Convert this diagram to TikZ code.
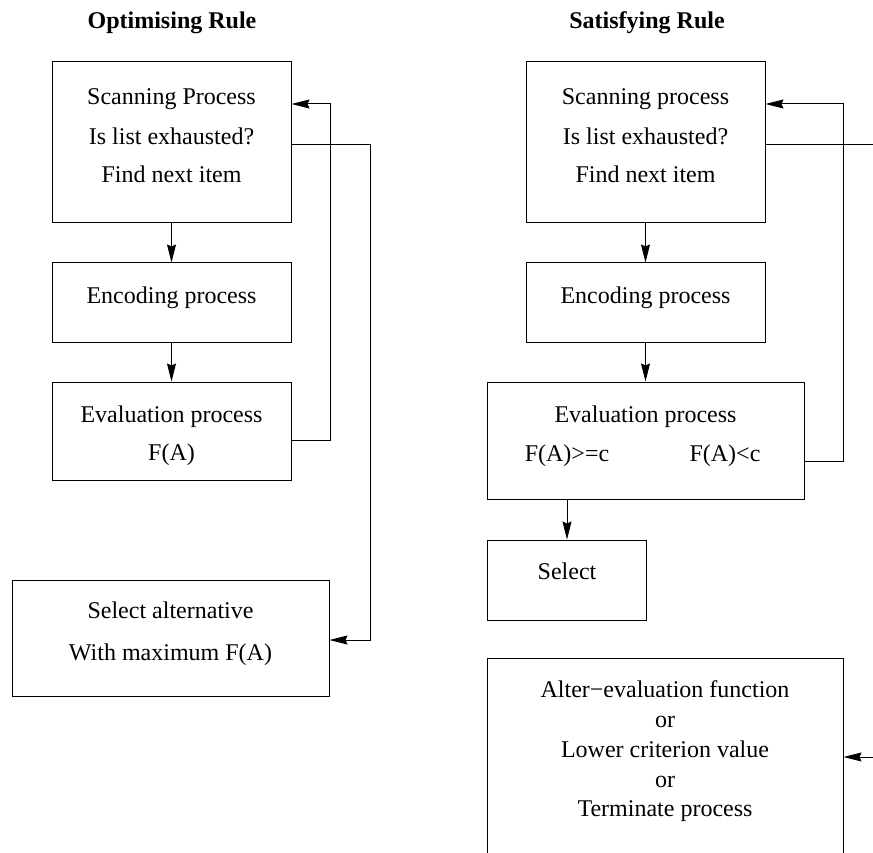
\documentclass[tikz,border=0pt]{standalone}
\usepackage{fontspec}
\setmainfont{Liberation Serif}
\usetikzlibrary{arrows.meta,calc}
\begin{document}
\begin{tikzpicture}[x=1pt,y=-1pt,
  box/.style={draw, line width=1pt, inner sep=0pt},
  txt/.style={font=\fontsize{24}{28}\selectfont, inner sep=0pt, anchor=base},
  ttl/.style={font=\fontsize{24}{28}\selectfont\bfseries, inner sep=0pt, anchor=base},
  link/.style={line width=1pt},
  arr/.style={line width=1pt, -{Stealth[length=18pt,width=9pt,inset=2pt]}}]
\useasboundingbox (0,0) rectangle (873,853);

% ---------- Optimising rule ----------
\node[ttl] (Lt) at (172,29) {Optimising Rule};
\node[box, minimum width=239pt, minimum height=161pt] (L1) at (171.5,142.5) {};
\node[box, minimum width=239pt, minimum height=79pt]  (L2) at (171.5,302.5) {};
\node[box, minimum width=239pt, minimum height=98pt]  (L3) at (171.5,431) {};
\node[box, minimum width=317pt, minimum height=116pt] (L4) at (170.5,638) {};

\node[txt] (L1a) at (171.5,105) {Scanning Process};
\node[txt] (L1b) at (171.5,145) {Is list exhausted?};
\node[txt] (L1c) at (171.5,183) {Find next item};
\node[txt] (L2a) at (171.5,303) {Encoding process};
\node[txt] (L3a) at (171.5,422) {Evaluation process};
\node[txt] (L3b) at (171.5,460) {F(A)};
\node[txt] (L4a) at (170.5,618) {Select alternative};
\node[txt] (L4b) at (170.5,660) {With maximum F(A)};

\draw[arr] (L1.south) -- (L2.north);
\draw[arr] (L2.south) -- (L3.north);
% loop back to the scanning step
\draw[arr] (L3.east |- 0,440) -- (330,440) -- (330,104) -- (L1.east |- 0,104);
% list exhausted: pick the best alternative
\draw[arr] (L1.east |- 0,145) -- (370,145) -- (370,640) -- (L4.east |- 0,640);

% ---------- Satisfying rule ----------
\node[ttl] (Rt) at (647,29) {Satisfying Rule};
\node[box, minimum width=239pt, minimum height=161pt] (R1) at (645.5,142.5) {};
\node[box, minimum width=239pt, minimum height=79pt]  (R2) at (645.5,302.5) {};
\node[box, minimum width=317pt, minimum height=117pt] (R3) at (645.5,440.5) {};
\node[box, minimum width=159pt, minimum height=80pt]  (R4) at (566.5,580) {};
\node[box, minimum width=356pt, minimum height=222pt] (R5) at (665,769) {};

\node[txt] (R1a) at (645.5,105) {Scanning process};
\node[txt] (R1b) at (645.5,145) {Is list exhausted?};
\node[txt] (R1c) at (645.5,183) {Find next item};
\node[txt] (R2a) at (645.5,303) {Encoding process};
\node[txt] (R3a) at (645.5,422) {Evaluation process};
\node[txt] (R3b) at (567,461) {F(A)>=c};
\node[txt] (R3c) at (725,461) {F(A)<c};
\node[txt] (R4a) at (567,579) {Select};
\node[txt] (R5a) at (665,697) {Alter−evaluation function};
\node[txt] (R5b) at (665,727) {or};
\node[txt] (R5c) at (665,757) {Lower criterion value};
\node[txt] (R5d) at (665,787) {or};
\node[txt] (R5e) at (665,816) {Terminate process};

\coordinate (sx) at (567,0);
\coordinate (Rout) at (873,145);
\coordinate (Rin) at (873,757);

\draw[arr] (R1.south) -- (R2.north);
\draw[arr] (R2.south) -- (R3.north);
\draw[arr] (R3.south -| sx) -- (R4.north -| sx);
% criterion not met: go round again
\draw[arr] (R3.east |- 0,461) -- (843,461) -- (843,104) -- (R1.east |- 0,104);
% list exhausted
\draw[link] (R1.east |- 0,145) -- (Rout);
\draw[arr] (Rin) -- (R5.east |- Rin);
\end{tikzpicture}
\end{document}
